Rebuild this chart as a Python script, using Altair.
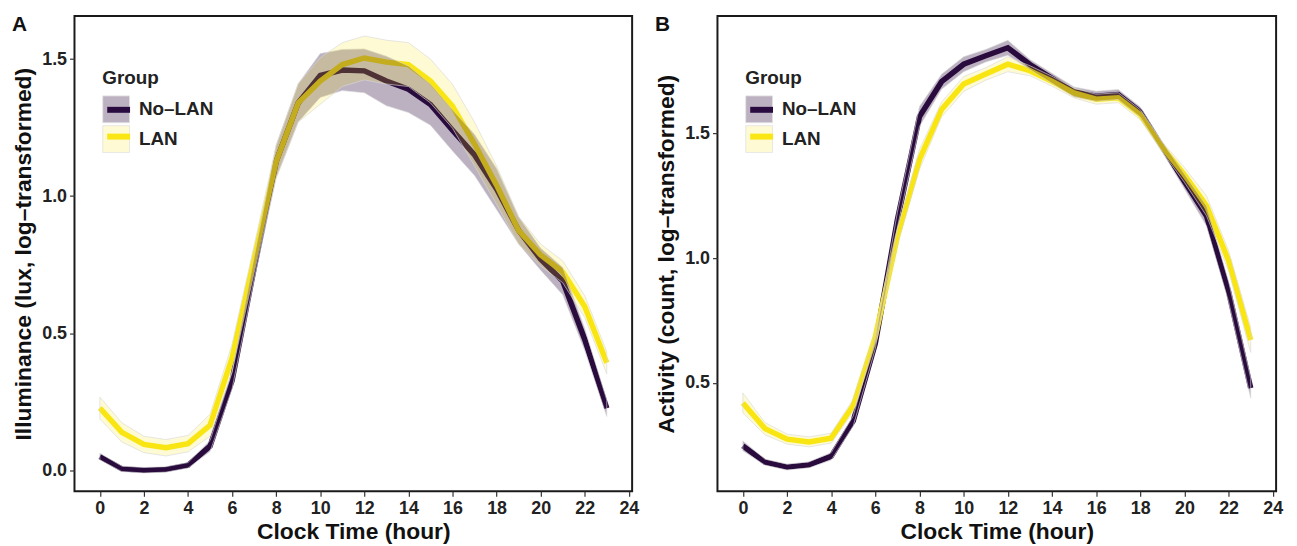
import altair as alt
import pandas as pd

hours = list(range(24))
groups = ["No–LAN", "LAN"]

# Panel A: illuminance (lux, log-transformed)
a_nolan_mean = [0.05, 0.005, 0.0, 0.003, 0.018, 0.088, 0.327, 0.736, 1.126, 1.34, 1.44, 1.46,
                1.457, 1.42, 1.39, 1.334, 1.24, 1.15, 1.026, 0.875, 0.77, 0.69, 0.477, 0.226]
a_nolan_ci = [0.012, 0.01, 0.01, 0.01, 0.01, 0.02, 0.03, 0.04, 0.06, 0.07, 0.08, 0.075,
              0.08, 0.09, 0.085, 0.075, 0.075, 0.075, 0.075, 0.05, 0.04, 0.05, 0.04, 0.03]
a_lan_mean = [0.227, 0.138, 0.094, 0.082, 0.097, 0.164, 0.41, 0.77, 1.126, 1.34, 1.42, 1.48,
              1.504, 1.489, 1.48, 1.42, 1.328, 1.19, 1.04, 0.875, 0.785, 0.724, 0.597, 0.392]
a_lan_ci = [0.04, 0.035, 0.03, 0.03, 0.03, 0.04, 0.05, 0.05, 0.06, 0.07, 0.085, 0.08,
            0.08, 0.08, 0.08, 0.08, 0.08, 0.08, 0.07, 0.05, 0.04, 0.04, 0.04, 0.04]

# Panel B: activity (count, log-transformed)
b_nolan_mean = [0.248, 0.183, 0.163, 0.172, 0.206, 0.348, 0.658, 1.154, 1.567, 1.706, 1.776, 1.81,
                1.842, 1.775, 1.72, 1.665, 1.648, 1.655, 1.585, 1.444, 1.306, 1.168, 0.865, 0.479]
b_nolan_ci = [0.02, 0.012, 0.012, 0.012, 0.015, 0.02, 0.02, 0.03, 0.04, 0.03, 0.03, 0.025,
              0.03, 0.02, 0.02, 0.02, 0.02, 0.02, 0.02, 0.02, 0.03, 0.04, 0.04, 0.04]
b_lan_mean = [0.42, 0.317, 0.275, 0.264, 0.279, 0.41, 0.686, 1.085, 1.395, 1.595, 1.697, 1.737,
              1.776, 1.75, 1.708, 1.661, 1.636, 1.642, 1.574, 1.444, 1.333, 1.209, 0.989, 0.672]
b_lan_ci = [0.04, 0.025, 0.02, 0.02, 0.02, 0.025, 0.02, 0.03, 0.04, 0.03, 0.03, 0.025,
            0.03, 0.02, 0.02, 0.02, 0.02, 0.02, 0.02, 0.02, 0.03, 0.04, 0.04, 0.05]

x_ticks = list(range(0, 25, 2))
line_colors = ["#2A0B3F", "#F9E612"]
band_colors = ["rgba(42,11,63,0.32)", "rgba(249,230,18,0.18)"]

FONT = "Liberation Sans"


def frame(nolan_m, nolan_ci, lan_m, lan_ci):
    rows = []
    for g, m, c in [(groups[0], nolan_m, nolan_ci), (groups[1], lan_m, lan_ci)]:
        for h, mv, cv in zip(hours, m, c):
            rows.append({"hour": h, "group": g, "mean": mv, "lower": mv - cv, "upper": mv + cv})
    return pd.DataFrame(rows)


def panel(df, ydomain, yticks, ytitle, label, width):
    xenc = alt.X("hour:Q", scale=alt.Scale(domain=[-1.15, 24.15], nice=False, zero=False),
                 axis=alt.Axis(values=x_ticks, title="Clock Time (hour)", titlePadding=4))
    yscale = alt.Scale(domain=ydomain, nice=False, zero=False)
    base = alt.Chart(df)
    lines = base.mark_line(strokeWidth=5.5).encode(
        x=xenc,
        y=alt.Y("mean:Q", scale=yscale,
                axis=alt.Axis(values=yticks, format=".1f", title=ytitle, titlePadding=6)),
        stroke=alt.Stroke("group:N", scale=alt.Scale(domain=groups, range=line_colors),
                          legend=alt.Legend(orient="none", legendX=30, legendY=53, title=" ",
                                            values=groups, labelExpr="''",
                                            symbolType="stroke", symbolSize=529, symbolStrokeWidth=6,
                                            rowPadding=-3, zindex=2)),
    )
    # fill scale domain listed in reverse so that its legend stays separate from the line legend
    bands = base.mark_area(stroke="#d8d8d8", strokeWidth=0.7, strokeOpacity=0.9).encode(
        x=xenc,
        y=alt.Y("lower:Q", scale=yscale),
        y2="upper:Q",
        fill=alt.Fill("group:N", scale=alt.Scale(domain=groups[::-1], range=band_colors[::-1]),
                      legend=alt.Legend(orient="none", legendX=28, legendY=53, title="Group",
                                        values=groups,
                                        symbolType="square", symbolSize=729, rowPadding=-7,
                                        symbolStrokeColor="#e2e2e2", symbolStrokeWidth=0.8,
                                        zindex=1, labelOffset=9)),
    )
    tag = alt.Chart(pd.DataFrame({"t": [label]})).mark_text(
        font=FONT, fontSize=21, fontWeight="bold", color="#111", align="left", baseline="top"
    ).encode(text="t:N", x=alt.value(-63), y=alt.value(-2))
    return alt.layer(lines, bands, tag).properties(width=width, height=479)


dfa = frame(a_nolan_mean, a_nolan_ci, a_lan_mean, a_lan_ci)
dfb = frame(b_nolan_mean, b_nolan_ci, b_lan_mean, b_lan_ci)

pa = panel(dfa, [-0.077, 1.657], [0.0, 0.5, 1.0, 1.5], "Illuminance (lux, log–transformed)", "A", 562)
pb = panel(dfb, [0.066, 1.969], [0.5, 1.0, 1.5], "Activity (count, log–transformed)", "B", 563)

chart = alt.hconcat(pa, pb, spacing=14).resolve_scale(fill="independent", stroke="independent").properties(
    padding={"left": 3, "top": 3, "right": 5, "bottom": 0}
).configure_view(
    stroke="#1a1a1a", strokeWidth=2
).configure_axis(
    grid=False, domain=False, labelFont=FONT, labelFontSize=18, labelFontWeight="bold",
    labelColor="#222", titleFont=FONT, titleFontSize=23, titleFontWeight="bold", titleColor="#111",
    tickColor="#333", tickSize=5, tickWidth=1.2, labelPadding=3
).configure_legend(
    titleFont=FONT, titleFontSize=19, titleFontWeight="bold", titleColor="#222",
    labelFont=FONT, labelFontSize=19, labelFontWeight="bold", labelColor="#222",
    padding=0, titlePadding=8
)

chart.save("out.html", embed_options={"renderer": "svg", "actions": False})
